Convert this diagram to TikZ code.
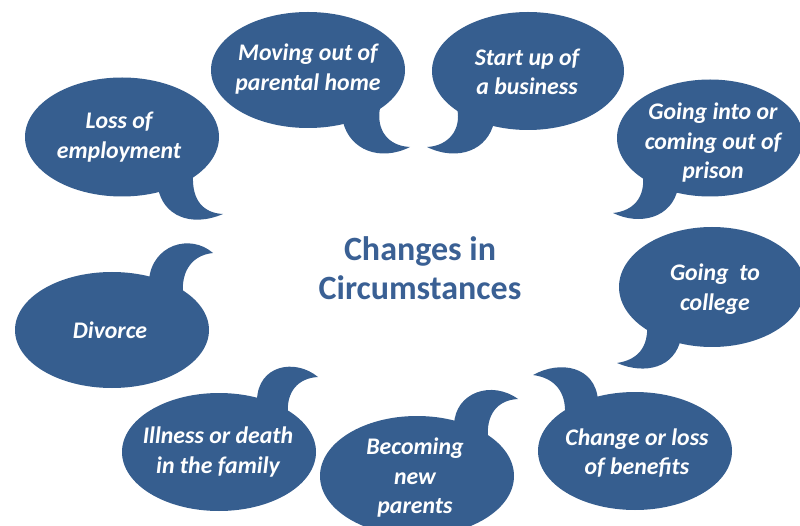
\documentclass[tikz,border=0pt]{standalone}
\usepackage{fontspec}
\setmainfont{Carlito}
\usetikzlibrary{shapes.geometric}
\definecolor{bub}{RGB}{54,94,143}
\definecolor{ttl}{RGB}{58,96,148}
\begin{document}
\begin{tikzpicture}[x=1pt,y=-1pt,
 bubble/.style={ellipse, fill=bub, inner sep=0pt},
 tail/.style={fill=bub},
 btext/.style={text=white, font=\fontsize{23.8}{29.5}\selectfont\bfseries\itshape, align=center, inner sep=0pt},
 ttext/.style={text=ttl, font=\fontsize{34}{39}\selectfont\bfseries, align=center, inner sep=0pt}]
\useasboundingbox (0,0) rectangle (800,526);
\clip (0,0) rectangle (800,526);
% bubbles
\node[bubble, minimum width=194pt, minimum height=119pt] (b1) at (122,137) {};
\node[bubble, minimum width=194pt, minimum height=116pt] (b2) at (308,70) {};
\node[bubble, minimum width=192pt, minimum height=118pt] (b3) at (528,71) {};
\node[bubble, minimum width=186pt, minimum height=117pt] (b4) at (710,138) {};
\node[bubble, minimum width=186pt, minimum height=120pt] (b5) at (712,287) {};
\node[bubble, minimum width=194pt, minimum height=118pt] (b6) at (635,451) {};
\node[bubble, minimum width=194pt, minimum height=120pt] (b7) at (417,476) {};
\node[bubble, minimum width=194pt, minimum height=118pt] (b8) at (219,452) {};
\node[bubble, minimum width=194pt, minimum height=116pt] (b9) at (112,330) {};
% tails
\fill[tail] (158,188) .. controls (163,215) and (190,228) .. (223,214) .. controls (203,213) and (192,200) .. (193,176) -- cycle;
\fill[tail] (343,122) .. controls (350,150) and (380,162) .. (410,147) .. controls (388,146) and (376,130) .. (380,108) -- cycle;
\fill[tail] (494,122) .. controls (488,150) and (458,162) .. (427,147) .. controls (448,146) and (462,130) .. (457,108) -- cycle;
\fill[tail] (678,188) .. controls (672,218) and (640,226) .. (613,213) .. controls (633,211) and (645,198) .. (643,176) -- cycle;
\fill[tail] (681,338) .. controls (675,368) and (645,375) .. (617,363) .. controls (637,360) and (649,348) .. (647,323) -- cycle;
\fill[tail] (598,400) .. controls (595,366) and (560,360) .. (533,375) .. controls (555,378) and (566,392) .. (565,414) -- cycle;
\fill[tail] (454,425) .. controls (455,392) and (492,380) .. (518,399) .. controls (497,400) and (486,415) .. (488,438) -- cycle;
\fill[tail] (257,400) .. controls (258,365) and (295,358) .. (318,377) .. controls (298,378) and (286,392) .. (288,414) -- cycle;
\fill[tail] (149,280) .. controls (152,245) and (190,233) .. (213,253) .. controls (193,255) and (181,270) .. (183,294) -- cycle;
% texts
\node[btext] (t1) at (119,137) {Loss of\\employment};
\node[btext] (t2) at (308,69) {Moving out of\\parental home};
\node[btext] (t3) at (527,72) {Start up of\\a business};
\node[btext] (t4) at (713,143) {Going into or\\coming out of\\prison};
\node[btext] (t5) at (715,289) {Going\ \ to\\college};
\node[btext] (t6) at (637,453) {Change or loss\\of benefits};
\node[btext] (t7) at (415,478) {Becoming\\new\\parents};
\node[btext] (t8) at (218,452) {Illness or death\\in the family};
\node[btext] (t9) at (110,330) {Divorce};
\node[ttext] (c) at (420,268) {Changes in\\Circumstances};
\end{tikzpicture}
\end{document}
